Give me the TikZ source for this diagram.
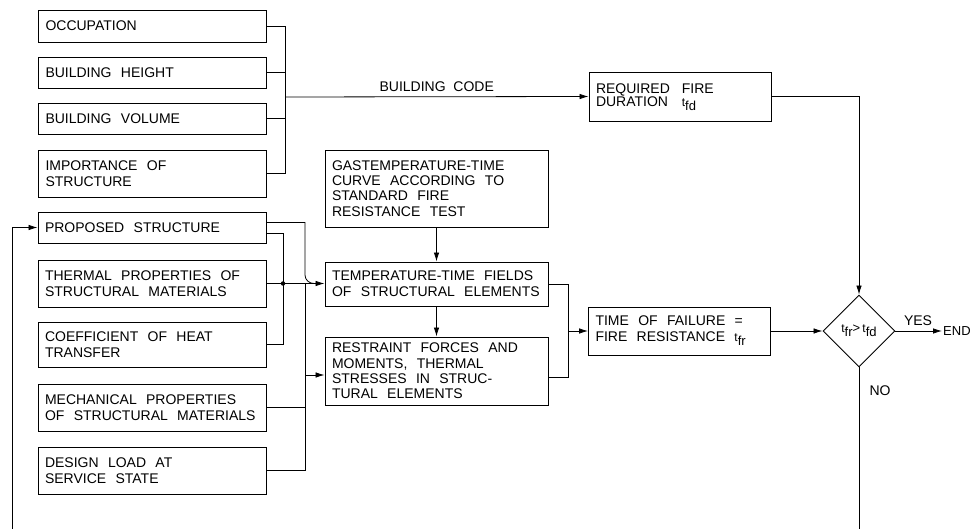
\documentclass[tikz,border=0pt]{standalone}
\usepackage{fontspec}
\setmainfont{Liberation Sans}
\usetikzlibrary{shapes.geometric,arrows.meta,calc}
\newcommand{\tsub}[1]{{\fontsize{12}{14}\selectfont t}\raisebox{-4pt}{\fontsize{13}{15}\selectfont #1}}
\begin{document}
\begin{tikzpicture}[x=1pt,y=-1pt,
  every node/.style={font=\fontsize{14}{16}\selectfont},
  box/.style={draw,line width=0.9pt,inner xsep=7pt,inner ysep=0pt,align=left,anchor=center},
  lbox/.style={box,minimum width=228pt,text width=214pt},
  mbox/.style={box,minimum width=223pt,text width=209pt},
  rbox/.style={box,minimum width=182pt,text width=168pt},
  con/.style={line width=0.8pt},
  arr/.style={con,-{Latex[length=9pt,width=5.5pt]}},
  dot/.style={circle,fill,inner sep=0pt,minimum size=4.5pt}]
\useasboundingbox (0,0) rectangle (971,529);
\clip (0,0) rectangle (971,529);
% left column
\node[lbox,minimum height=32pt] (occ) at (152.5,26) {OCCUPATION};
\node[lbox,minimum height=31pt] (hgt) at (152.5,72.5) {BUILDING\ \ HEIGHT};
\node[lbox,minimum height=31pt] (vol) at (152.5,118.5) {BUILDING\ \ VOLUME};
\node[lbox,minimum height=47pt] (imp) at (152.5,173.5) {IMPORTANCE\ \ OF\\STRUCTURE};
\node[lbox,minimum height=31pt] (prop) at (152,227.5) {PROPOSED\ \ STRUCTURE};
\node[lbox,minimum height=47pt] (therm) at (152,283.5) {THERMAL\ \ PROPERTIES\ \ OF\\STRUCTURAL\ \ MATERIALS};
\node[lbox,minimum height=45pt] (coef) at (152,344.5) {COEFFICIENT\ \ OF\ \ HEAT\\TRANSFER};
\node[lbox,minimum height=47pt] (mech) at (152,407.5) {MECHANICAL\ \ PROPERTIES\\OF\ \ STRUCTURAL\ \ MATERIALS};
\node[lbox,minimum height=47pt] (des) at (152,470.5) {DESIGN\ \ LOAD\ \ AT\\SERVICE\ \ STATE};
% middle column
\node[mbox,minimum height=77pt,font=\fontsize{14}{15.3}\selectfont] (gas) at (436.5,188.5) {GASTEMPERATURE-TIME\\CURVE\ \ ACCORDING\ \ TO\\STANDARD\ \ FIRE\\RESISTANCE\ \ TEST};
\node[mbox,minimum height=44pt] (temp) at (436.5,284) {TEMPERATURE-TIME\ \ FIELDS\\OF\ \ STRUCTURAL\ \ ELEMENTS};
\node[mbox,minimum height=68pt,font=\fontsize{14}{15.3}\selectfont] (rest) at (436.5,371) {RESTRAINT\ \ FORCES\ \ AND\\MOMENTS,\ \ THERMAL\\STRESSES\ \ IN\ \ STRUC-\\TURAL\ \ ELEMENTS};
% right column
\node[rbox,minimum height=49pt] (req) at (680,96.5) {\begin{tabular}{@{}l@{\hspace{12pt}}l@{}}REQUIRED & FIRE\\[-3pt] DURATION & \tsub{fd}\end{tabular}};
\node[rbox,minimum height=48pt] (tof) at (679.5,331) {TIME\ \ OF\ \ FAILURE\ \ =\\FIRE\ \ RESISTANCE\ \ \tsub{fr}};
\node[draw,line width=0.9pt,diamond,minimum width=72pt,minimum height=72pt,inner sep=0pt,font=\fontsize{13}{15}\selectfont] (dia) at (859,331) {\raisebox{2pt}{\tsub{fr}>\,\tsub{fd}}};
\node[anchor=west,inner sep=1pt,font=\fontsize{13}{15}\selectfont] (endn) at (942,331) {END};
\node[anchor=south] (yes) at (918,329) {YES};
\node[anchor=west] (no) at (866,391) {NO};
% bus for building code
\coordinate (bus) at (285,97);
\draw[con] (occ.east) -- (285,26) -- (285,173.5) -- (imp.east);
\draw[con] (hgt.east) -- (285,72.5);
\draw[con] (vol.east) -- (285,118.5);
\draw[arr] (bus) -- node[above=1pt] (bc) {BUILDING\ \ CODE} (req.west);
\draw[arr] (req.east) -| (dia.north);
\draw[arr] (tof.east) -- (dia.west);
\draw[arr] (dia.east) -- (endn.west);
% loop back
\draw[arr] (dia.south) -- (859,560) -- (12,560) |- (prop.west);
% inputs to temperature field
\coordinate (jn) at (283,283.5);
\draw[con] (prop.east) ++(0,-5) -- (305,222.5) -- (305,275) to[out=-90,in=180] (314,283.5);
\draw[con] (prop.east) ++(0,5.5) -- (283,233) -- (jn);
\draw[con] (coef.east) -| (jn);
\draw[arr] (therm.east) -- (temp.west |- jn);
\node[dot] at (jn) {};
% inputs to restraint
\coordinate (rj) at (304,375);
\draw[con] (305,283.5) -- (305,470.5) -- (des.east);
\draw[con] (mech.east) -- (305,407.5);
\draw[arr] (305,375) -- (rest.west |- rj);
% vertical arrows
\draw[arr] (gas.south) -- (temp.north);
\draw[arr] (temp.south) -- (rest.north);
% outputs to time of failure
\coordinate (oj) at (568,331);
\draw[con] (temp.east) -- (568,284) -- (568,377) -- ([yshift=-6pt]rest.east);
\draw[arr] (oj) -- (tof.west);
\end{tikzpicture}
\end{document}
